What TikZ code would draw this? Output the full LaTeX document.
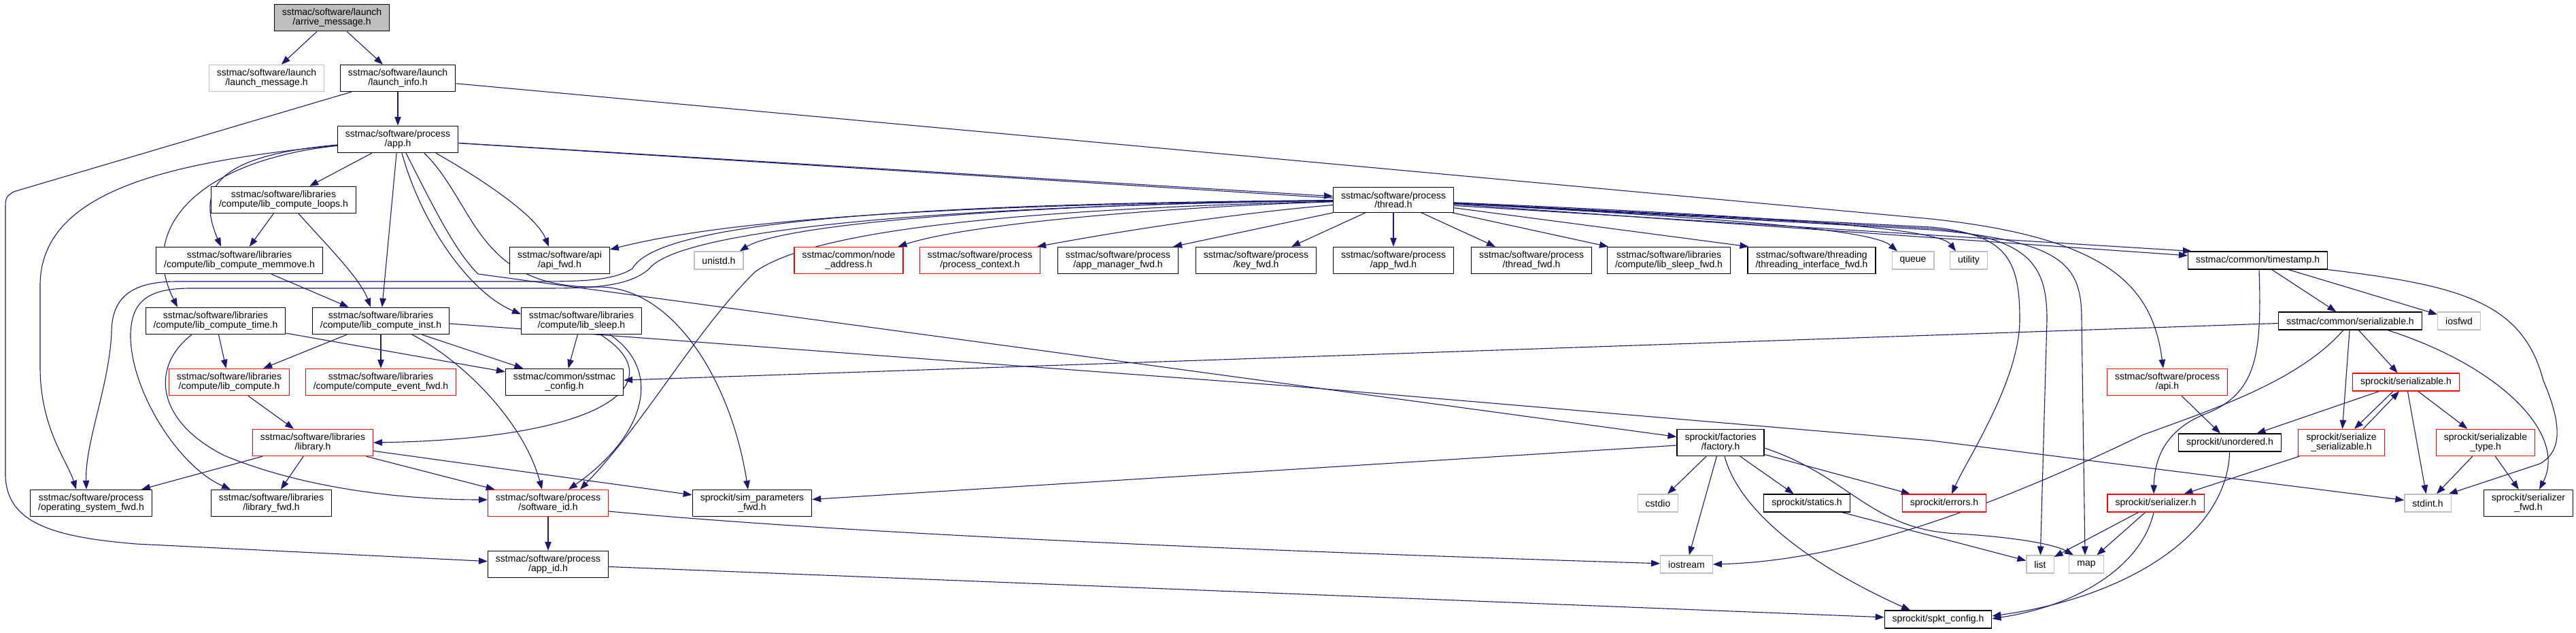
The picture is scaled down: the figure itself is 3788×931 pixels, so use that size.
\documentclass[tikz,border=0pt]{standalone}
\usepackage{fontspec}
\setmainfont{Liberation Sans}
\usetikzlibrary{arrows.meta,backgrounds}
\definecolor{edg}{HTML}{191970}
\definecolor{redb}{HTML}{FF0000}
\definecolor{extb}{HTML}{BFBFBF}
\definecolor{topf}{HTML}{BFBFBF}
\tikzset{
  hdr/.style={draw=black,line width=1.1pt,fill=white,align=center,inner xsep=11.5pt,inner ysep=6.3pt,minimum height=26pt,font=\fontsize{14}{13.7}\selectfont},
  rhdr/.style={hdr,draw=redb},
  xhdr/.style={hdr,draw=extb},
  mainhdr/.style={hdr,fill=topf},
  ed/.style={draw=edg,line width=1.1pt,-{Triangle[length=13pt,width=9.5pt]}},
}

\begin{document}
\begin{tikzpicture}[x=1pt,y=-1pt]
  \useasboundingbox (0,0) rectangle (3788,931);
  \node[mainhdr] (arrive) at (488,26) {sstmac/software/launch\\/arrive\_message.h};
  \node[xhdr] (launchmsg) at (392,115) {sstmac/software/launch\\/launch\_message.h};
  \node[hdr] (launchinfo) at (585,115) {sstmac/software/launch\\/launch\_info.h};
  \node[hdr] (app) at (585,205) {sstmac/software/process\\/app.h};
  \node[hdr] (loops) at (417,294) {sstmac/software/libraries\\/compute/lib\_compute\_loops.h};
  \node[hdr] (thread) at (2049,294) {sstmac/software/process\\/thread.h};
  \node[hdr] (memmove) at (352,383) {sstmac/software/libraries\\/compute/lib\_compute\_memmove.h};
  \node[hdr] (apifwd) at (823,383) {sstmac/software/api\\/api\_fwd.h};
  \node[xhdr] (unistd) at (1057,383) {unistd.h};
  \node[rhdr] (nodeaddr) at (1248,383) {sstmac/common/node\\\_address.h};
  \node[rhdr] (proccontext) at (1441,383) {sstmac/software/process\\/process\_context.h};
  \node[hdr] (appmgrfwd) at (1644,383) {sstmac/software/process\\/app\_manager\_fwd.h};
  \node[hdr] (keyfwd) at (1847,383) {sstmac/software/process\\/key\_fwd.h};
  \node[hdr] (appfwd) at (2049,383) {sstmac/software/process\\/app\_fwd.h};
  \node[hdr] (threadfwd) at (2252,383) {sstmac/software/process\\/thread\_fwd.h};
  \node[hdr] (sleepfwd) at (2454,383) {sstmac/software/libraries\\/compute/lib\_sleep\_fwd.h};
  \node[hdr] (threadingfwd) at (2664,383) {sstmac/software/threading\\/threading\_interface\_fwd.h};
  \node[xhdr] (queue) at (2813,383) {queue};
  \node[xhdr] (utility) at (2895,383) {utility};
  \node[hdr] (timestamp) at (3320,383) {sstmac/common/timestamp.h};
  \node[hdr] (ctime) at (317,472) {sstmac/software/libraries\\/compute/lib\_compute\_time.h};
  \node[hdr] (cinst) at (560,472) {sstmac/software/libraries\\/compute/lib\_compute\_inst.h};
  \node[hdr] (sleep) at (855,472) {sstmac/software/libraries\\/compute/lib\_sleep.h};
  \node[hdr] (serializable) at (3456,472) {sstmac/common/serializable.h};
  \node[xhdr] (iosfwd) at (3616,472) {iosfwd};
  \node[rhdr] (compute) at (337,562) {sstmac/software/libraries\\/compute/lib\_compute.h};
  \node[rhdr] (eventfwd) at (560,562) {sstmac/software/libraries\\/compute/compute\_event\_fwd.h};
  \node[hdr] (config) at (830,562) {sstmac/common/sstmac\\\_config.h};
  \node[rhdr] (api) at (3187,562) {sstmac/software/process\\/api.h};
  \node[rhdr] (spktser) at (3538,562) {sprockit/serializable.h};
  \node[rhdr] (library) at (460,651) {sstmac/software/libraries\\/library.h};
  \node[hdr] (factory) at (2530,651) {sprockit/factories\\/factory.h};
  \node[hdr] (unordered) at (3279,651) {sprockit/unordered.h};
  \node[rhdr] (serser) at (3443,651) {sprockit/serialize\\\_serializable.h};
  \node[rhdr] (sertype) at (3655,651) {sprockit/serializable\\\_type.h};
  \node[hdr] (osfwd) at (134,740) {sstmac/software/process\\/operating\_system\_fwd.h};
  \node[hdr] (libfwd) at (399,740) {sstmac/software/libraries\\/library\_fwd.h};
  \node[rhdr] (swid) at (806,740) {sstmac/software/process\\/software\_id.h};
  \node[hdr] (paramsfwd) at (1106,740) {sprockit/sim\_parameters\\\_fwd.h};
  \node[xhdr] (cstdio) at (2438,740) {cstdio};
  \node[hdr] (statics) at (2657,740) {sprockit/statics.h};
  \node[rhdr] (errors) at (2859,740) {sprockit/errors.h};
  \node[rhdr] (serializer) at (3170,740) {sprockit/serializer.h};
  \node[xhdr] (stdint) at (3570,740) {stdint.h};
  \node[hdr] (serfwd) at (3718,740) {sprockit/serializer\\\_fwd.h};
  \node[hdr] (appid) at (806,830) {sstmac/software/process\\/app\_id.h};
  \node[xhdr] (iostream) at (2480,830) {iostream};
  \node[xhdr] (list) at (3000,830) {list};
  \node[xhdr] (map) at (3068,830) {map};
  \node[hdr] (spktconfig) at (2850,911) {sprockit/spkt\_config.h};

  \begin{scope}[on background layer]
  \draw[ed] (arrive) -- (launchmsg);
  \draw[ed] (arrive) -- (launchinfo);
  \draw[ed] (launchinfo) -- (app);
  \draw[ed] (launchinfo) -- (2840,322) .. controls (3100,350) and (3165,420) .. ([xshift=-6pt]api.north);
  \draw[ed] (launchinfo) -- (20,282) .. controls (8,290) .. (8,310) -- (8,700) .. controls (10,770) and (80,790) .. (200,800) -- (appid);

  \draw[ed] (app) -- (loops);
  \draw[ed] (app) .. controls (330,228) and (285,270) .. ([xshift=-27pt]memmove.north);
  \draw[ed] (app) .. controls (300,235) and (200,330) .. ([xshift=-56pt]ctime.north);
  \draw[ed] (app) .. controls (250,238) and (59,280) .. (59,420) -- (59,540) .. controls (59,630) and (100,680) .. ([xshift=-22pt]osfwd.north);
  \draw[ed] (app) -- (cinst);
  \draw[ed] ([xshift=6pt]app.south) .. controls (620,330) and (690,430) .. ([yshift=10pt]sleep.west);
  \draw[ed] ([xshift=12pt]app.south) .. controls (640,310) and (670,370) .. (703,403) -- (factory);
  \draw[ed] ([xshift=39pt]app.south) .. controls (700,300) and (700,425) .. (880,422) .. controls (990,422) and (1075,560) .. ([xshift=-6pt]paramsfwd.north);
  \draw[ed] ([xshift=56pt]app.south) .. controls (720,270) and (790,320) .. ([xshift=-16pt]apifwd.north);
  \draw[ed] (app) -- (thread);
  \draw[ed] (app) -- (2100,300) -- ([xshift=6pt]timestamp.north west);

  \draw[ed] (loops) -- (memmove);
  \draw[ed] ([xshift=22pt]loops.south) .. controls (480,360) and (530,410) .. ([xshift=-15pt]cinst.north);
  \draw[ed] (memmove) -- (cinst);

  \draw[ed] (ctime) -- (compute);
  \draw[ed] (ctime) -- (config);
  \draw[ed] ([xshift=-35pt]ctime.south) .. controls (220,540) and (230,620) .. (330,670) .. controls (450,720) and (600,735) .. ([yshift=5pt]swid.west);
  \draw[ed] (cinst) -- (compute);
  \draw[ed] (cinst) -- (eventfwd);
  \draw[ed] (cinst) -- (config);
  \draw[ed] ([xshift=46pt]cinst.south) .. controls (680,530) and (770,620) .. ([xshift=-9pt]swid.north);
  \draw[ed] ([yshift=-4pt]cinst.east) -- (1900,568) -- (2840,648) -- (stdint);
  \draw[ed] (sleep) -- (config);
  \draw[ed] ([xshift=28pt]sleep.south) .. controls (990,560) and (900,645) .. (library.east);
  \draw[ed] ([xshift=42pt]sleep.south) .. controls (975,545) and (950,640) .. ([xshift=30pt]swid.north);
  \draw[ed] (compute) -- (library);
  \draw[ed] (library) -- (osfwd);
  \draw[ed] (library) -- (libfwd);
  \draw[ed] (library) -- (swid);
  \draw[ed] (library) -- (paramsfwd);
  \draw[ed] (swid) -- (appid);
  \draw[ed] ([yshift=-12pt]swid.east) .. controls (1300,790) and (2000,815) .. (iostream);
  \draw[ed] (appid) -- (spktconfig);

  \draw[ed] (thread) .. controls (1500,300) and (1150,330) .. ([xshift=-6pt]unistd.north east);
  \draw[ed] (thread) .. controls (1700,305) and (1420,330) .. ([xshift=-8pt]nodeaddr.north east);
  \draw[ed] (thread) .. controls (1800,315) and (1620,345) .. ([xshift=-5pt]proccontext.north east);
  \draw[ed] (thread) -- ([xshift=-8pt]appmgrfwd.north east);
  \draw[ed] (thread) -- ([xshift=52pt]keyfwd.north);
  \draw[ed] (thread) -- (appfwd);
  \draw[ed] (thread) -- ([xshift=-53pt]threadfwd.north);
  \draw[ed] (thread) -- ([xshift=2pt]sleepfwd.north west);
  \draw[ed] (thread) -- ([xshift=2pt]threadingfwd.north west);
  \draw[ed] (thread) .. controls (2500,320) and (2750,335) .. ([xshift=-23pt]queue.north);
  \draw[ed] (thread) .. controls (2600,318) and (2850,335) .. ([xshift=-19pt]utility.north);
  \draw[ed] (thread) -- (timestamp);
  \draw[ed] (thread) -- (2840,334) .. controls (2950,345) and (2970,380) .. (2970,470) .. controls (2970,560) and (2890,680) .. ([xshift=11pt]errors.north);
  \draw[ed] (thread) -- (2840,336) .. controls (2985,350) and (3010,390) .. (3010,470) -- (list);
  \draw[ed] (thread) -- (2840,338) .. controls (3035,355) and (3061,390) .. (3061,470) -- ([xshift=-2pt]map.north);
  \draw[ed] (thread) .. controls (1500,300) and (1100,315) .. ([yshift=16pt]apifwd.east);
  \draw[ed] (thread) .. controls (1200,300) and (960,340) .. (930,395) .. controls (900,414) and (850,414) .. (780,414) -- (260,414) .. controls (190,414) and (164,440) .. (164,490) .. controls (160,570) and (125,650) .. ([xshift=-7pt]osfwd.north);
  \draw[ed] (thread) .. controls (1250,305) and (990,350) .. (955,395) .. controls (925,422) and (870,424) .. (800,424) -- (280,424) .. controls (215,424) and (194,445) .. (192,490) .. controls (190,570) and (260,685) .. ([xshift=-60pt]libfwd.north);
  \draw[ed] (thread) .. controls (1400,310) and (1180,350) .. (1110,400) .. controls (1020,490) and (950,620) .. ([xshift=47pt]swid.north);

  \draw[ed] (timestamp) -- (serializable);
  \draw[ed] (timestamp) -- (iosfwd);
  \draw[ed] (timestamp.south east) .. controls (3620,420) and (3710,445) .. (3740,560) .. controls (3770,630) and (3765,665) .. (3735,682) -- ([xshift=-4pt]stdint.north east);
  \draw[ed] ([xshift=2pt]timestamp.south) .. controls (3326,520) and (3320,580) .. (3240,610) .. controls (3180,635) and (3168,680) .. ([xshift=-3pt]serializer.north);
  \draw[ed] ([xshift=-10pt]serializable.south) .. controls (3380,560) and (3260,600) .. (3150,640) .. controls (2900,760) and (2700,825) .. (iostream.east);
  \draw[ed] (serializable) -- (config);
  \draw[ed] (serializable) -- (spktser);
  \draw[ed] (serializable) -- (serser);
  \draw[ed] ([xshift=55pt]serializable.south) .. controls (3680,540) and (3775,640) .. ([xshift=16pt]serfwd.north);
  \draw[ed] (spktser) -- (unordered);
  \draw[ed] ([xshift=-19pt]spktser.south) -- ([xshift=19pt]serser.north);
  \draw[ed] ([xshift=32pt]serser.north) -- ([xshift=-10pt]spktser.south);
  \draw[ed] (spktser) -- (stdint);
  \draw[ed] (spktser) -- (sertype);
  \draw[ed] (serser) -- (serializer);
  \draw[ed] (sertype) -- (stdint);
  \draw[ed] (sertype) -- (serfwd);
  \draw[ed] (api) -- (unordered);
  \draw[ed] (unordered) .. controls (3275,790) and (3120,880) .. ([yshift=5pt]spktconfig.east);
  \draw[ed] (serializer) -- (list);
  \draw[ed] (serializer) -- (map);
  \draw[ed] ([xshift=-3pt]serializer.south) .. controls (3150,830) and (3060,890) .. ([yshift=1pt]spktconfig.east);

  \draw[ed] (factory) -- (cstdio);
  \draw[ed] (factory) -- (iostream);
  \draw[ed] (factory) -- (statics);
  \draw[ed] (factory) -- (errors);
  \draw[ed] ([xshift=6pt]factory.south) .. controls (2560,760) and (2680,840) .. ([xshift=-41pt]spktconfig.north);
  \draw[ed] ([yshift=-8pt]factory.east) .. controls (2720,700) and (2750,780) .. (2880,785) .. controls (2960,790) and (3020,800) .. ([xshift=-19pt]map.north);
  \draw[ed] (factory) -- (paramsfwd);
  \draw[ed] (statics) -- (list);
  \end{scope}
\end{tikzpicture}
\end{document}
